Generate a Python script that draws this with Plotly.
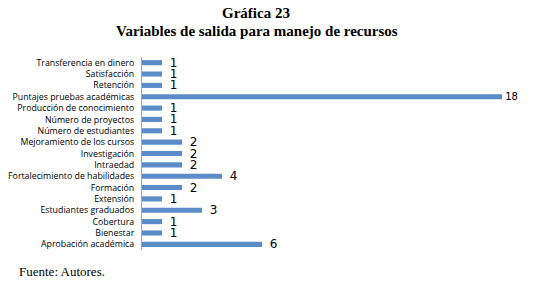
import plotly.graph_objects as go

categories = [
    "Aprobación académica", "Bienestar", "Cobertura", "Estudiantes graduados",
    "Extensión", "Formación", "Fortalecimiento de habilidades", "Intraedad",
    "Investigación", "Mejoramiento de los cursos", "Número de estudiantes",
    "Número de proyectos", "Producción de conocimiento",
    "Puntajes pruebas académicas", "Retención", "Satisfacción",
    "Transferencia en dinero",
]
values = [6, 1, 1, 3, 1, 2, 4, 2, 2, 2, 1, 1, 1, 18, 1, 1, 1]

fig = go.Figure()
fig.add_trace(go.Bar(
    y=categories, x=values, orientation="h",
    marker=dict(color="#5B8CC7", line=dict(width=0)),
    width=0.45, hoverinfo="skip",
    text=[f"  {v}" if v < 10 else f" {v}" for v in values],
    textposition="outside", constraintext="none", cliponaxis=False,
    textfont=dict(family="DejaVu Sans", size=[10 if v >= 10 else 12 for v in values], color="#000"),
))

# page body adds an 8px offset; figure is sized to fit the 533x289 window
W, H = 525, 281
L, R, T, B = 134, 1, 49, 39
PW, PH = W - L - R, H - T - B

def px(fx):
    return (fx - L) / PW

def py(fy):
    return (H - B - fy) / PH

fig.update_layout(
    width=W, height=H,
    margin=dict(l=L, r=R, t=T, b=B, autoexpand=False),
    paper_bgcolor="white", plot_bgcolor="white",
    showlegend=False,
    xaxis=dict(range=[0, 19.5], visible=False, fixedrange=True, domain=[0, 1]),
    yaxis=dict(
        type="category", showgrid=False, showline=True, linecolor="#A6A6A6",
        linewidth=1, ticks="", ticklabelstandoff=5, automargin=False,
        tickfont=dict(family="Open Sans", size=8.8, color="#000"),
        range=[-0.5, 16.5], zeroline=False,
    ),
    annotations=[
        dict(text="<b>Gráfica 23</b>", xref="paper", yref="paper",
             x=px(248), y=py(5), xanchor="center", yanchor="middle", showarrow=False,
             font=dict(family="Liberation Serif", size=15, color="#000")),
        dict(text="<b>Variables de salida para manejo de recursos</b>", xref="paper", yref="paper",
             x=px(249), y=py(23), xanchor="center", yanchor="middle", showarrow=False,
             font=dict(family="Liberation Serif", size=15, color="#000")),
        dict(text="Fuente: Autores.", xref="paper", yref="paper",
             x=px(9), y=py(263), xanchor="left", yanchor="middle", showarrow=False,
             font=dict(family="Liberation Serif", size=13, color="#000")),
    ],
)

fig.write_html("out.html")
